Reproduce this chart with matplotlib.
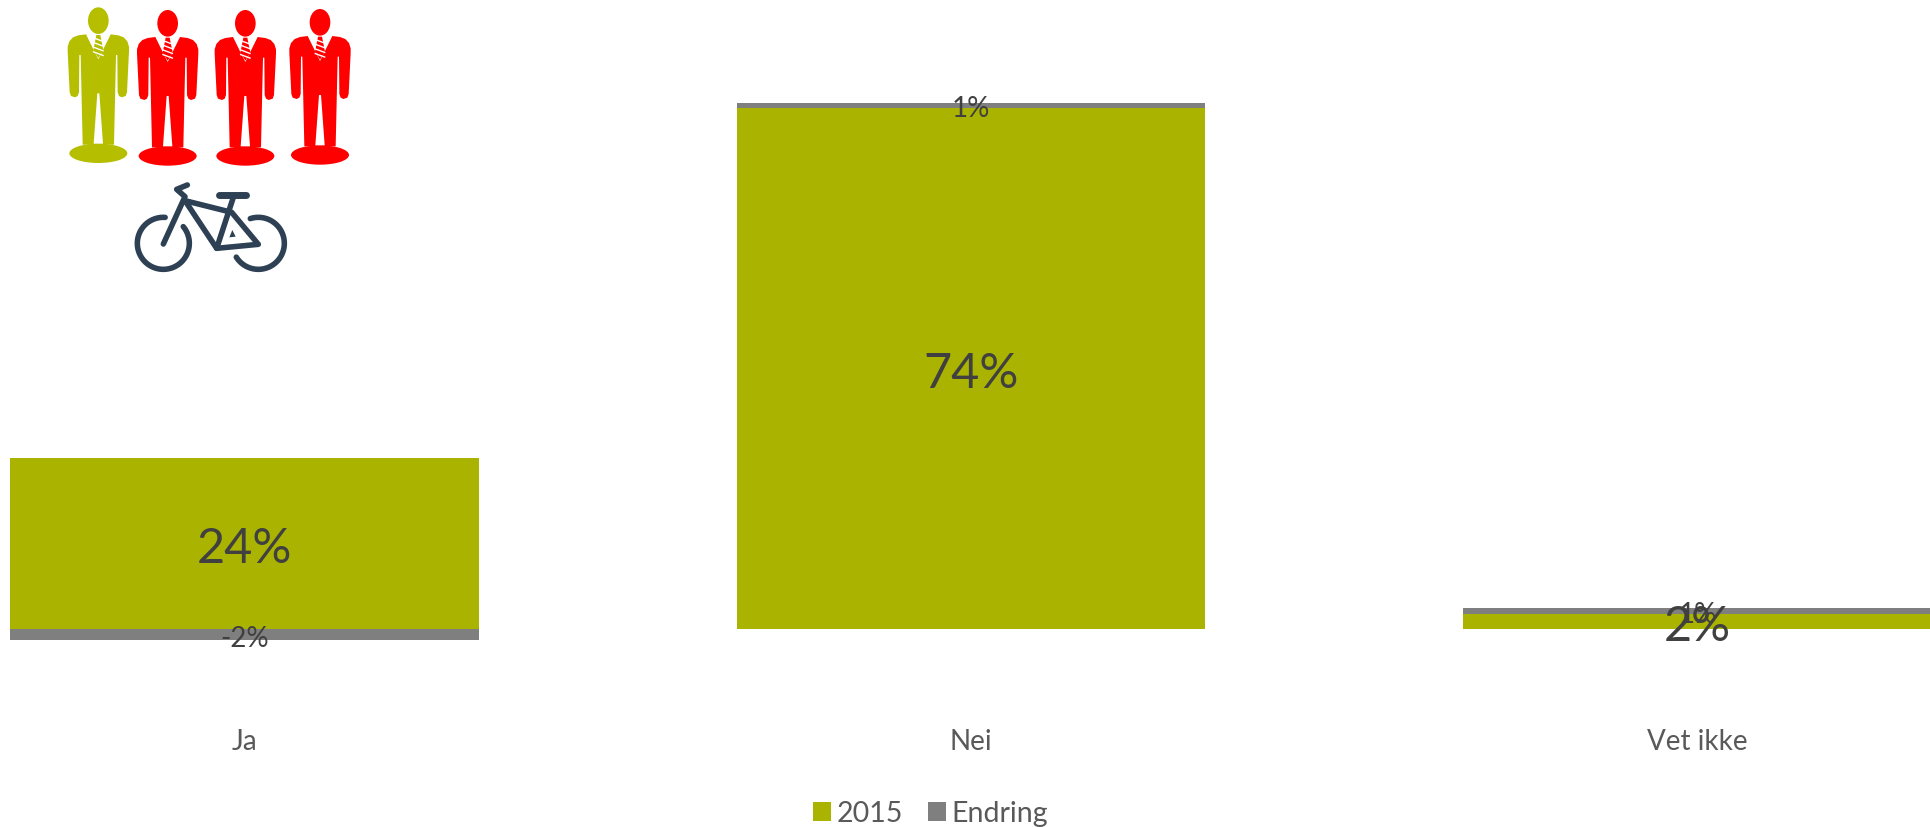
import numpy as np
from matplotlib import pyplot as plt
from matplotlib.patches import Ellipse, Polygon

categories = ['Ja', 'Nei', 'Vet ikke']
series_2015 = [24.3, 74.0, 2.1]
series_endring = [-1.6, 0.75, 0.85]
labels_2015 = ['24%', '74%', '2%']
labels_endring = ['-2%', '1%', '1%']

GREEN = '#AAB300'
GREY = '#7F7F7F'
MAN_GREEN = '#B5BF00'
RED = '#FF0000'
BIKE = '#2E4053'

W, H = 1930, 828
px_per_unit = 7.04
base_px = 630
axes_bottom_px = 700

plt.rcParams['font.family'] = ['Lato', 'DejaVu Sans']

fig = plt.figure(figsize=(W / 100, H / 100), dpi=100)
ax = fig.add_axes([0, 1 - axes_bottom_px / H, 1, axes_bottom_px / H])

x = np.arange(len(categories))
bottoms = [v if c > 0 else 0 for v, c in zip(series_2015, series_endring)]
b1 = ax.bar(x, series_2015, width=0.645, color=GREEN, label='2015')
b2 = ax.bar(x, series_endring, width=0.645, bottom=bottoms, color=GREY, label='Endring')

for xi, v, lab in zip(x, series_2015, labels_2015):
    ax.annotate(lab, (xi, v / 2), xytext=(0, -3.5), textcoords='offset points',
                ha='center', va='center', fontsize=35, color='#404040')
for xi, bot, c, lab in zip(x, bottoms, series_endring, labels_endring):
    ax.annotate(lab, (xi, bot + c / 2), xytext=(0, -2.2), textcoords='offset points',
                ha='center', va='center', fontsize=20, color='#404040')

ax.set_xlim(-244.5 / 726.5, (W - 244.5) / 726.5)
ax.set_ylim(-(axes_bottom_px - base_px) / px_per_unit, base_px / px_per_unit)
ax.set_xticks(x)
ax.set_xticklabels(categories, fontsize=20, color='#595959')
ax.tick_params(axis='x', length=0, pad=21)
ax.set_yticks([])
for s in ax.spines.values():
    s.set_visible(False)

fig.legend(handles=[b1, b2], loc='lower center', bbox_to_anchor=(0.4822, 0.001), ncol=2,
           frameon=False, fontsize=20.5, labelcolor='#595959', handlelength=0.65,
           handleheight=0.65, handletextpad=0.2, columnspacing=0.85, borderaxespad=0, borderpad=0)

# icons, drawn in pixel space on top of the chart
icons = fig.add_axes([0, 0, 1, 1], zorder=5)
icons.set_xlim(0, W)
icons.set_ylim(H, 0)
icons.axis('off')
icons.patch.set_alpha(0)


def draw_man(zx, zy, color):
    # outline is in zoomed units (3x) relative to the head centre
    cx, cy = 40 + zx / 3, zy / 3 + 1

    def P(pts):
        return [(cx + a / 3, cy + b / 3) for a, b in pts]

    right = [(0, 116), (37, 41), (60, 44), (76, 50), (87, 62), (92, 78), (92, 92), (86, 215), (82, 226),
             (70, 230), (62, 226), (58, 215), (57, 103), (53, 103), (47, 372)]
    left = [(-a, b) for a, b in reversed(right)]
    icons.add_patch(Polygon(P(right + left), closed=True, fc=color, ec='none'))
    icons.add_patch(Ellipse((cx, cy), 62 / 3, 80 / 3, fc=color, ec='none'))
    icons.add_patch(Ellipse((cx, cy + 398 / 3), 174 / 3, 58 / 3, fc=color, ec='none'))
    # gap between the legs
    icons.add_patch(Polygon(P([(-3, 218), (3, 218), (14, 369), (-14, 369)]), closed=True,
                            fc='white', ec='none'))
    # tie on top of the white V
    icons.add_patch(Polygon(P([(-6, 43), (6, 43), (15, 88), (0, 112), (-15, 88)]), closed=True,
                            fc=color, ec='none'))
    for yy in [56, 70, 84, 98]:
        a, b = P([(-16, yy - 5), (16, yy + 7)])
        icons.plot([a[0], b[0]], [a[1], b[1]], color='white', lw=1.0, solid_capstyle='butt')


draw_man(175, 62, MAN_GREEN)
draw_man(383, 70, RED)
draw_man(616, 70, RED)
draw_man(840, 67, RED)


def bx(v):
    return 40 + np.asarray(v, dtype=float) / 3


def by(v):
    return np.asarray(v, dtype=float) / 3 + 1


def bike_line(xs, ys, lw=4.0):
    icons.plot(bx(xs), by(ys), color=BIKE, lw=lw, solid_capstyle='round', solid_joinstyle='round')


# wheels, angles measured on screen with y pointing down
t = np.radians(np.linspace(-86, -400, 90))
bike_line(370 + 78 * np.cos(t), 730 + 78 * np.sin(t))
t = np.radians(np.linspace(-108, 148, 80))
bike_line(655 + 78 * np.cos(t), 730 + 78 * np.sin(t))
# fork and handlebar
bike_line([370, 435, 410, 442], [732, 590, 568, 555])
# frame
bike_line([435, 575, 655, 530, 435], [602, 637, 733, 745, 602])
bike_line([530, 580], [745, 592])
# saddle
bike_line([538, 618], [585, 585], lw=5.0)
icons.add_patch(Polygon(list(zip(bx([577, 587, 568]), by([690, 710, 712]))), closed=True,
                        fc=BIKE, ec='none'))

plt.savefig('out.png', dpi=100)
